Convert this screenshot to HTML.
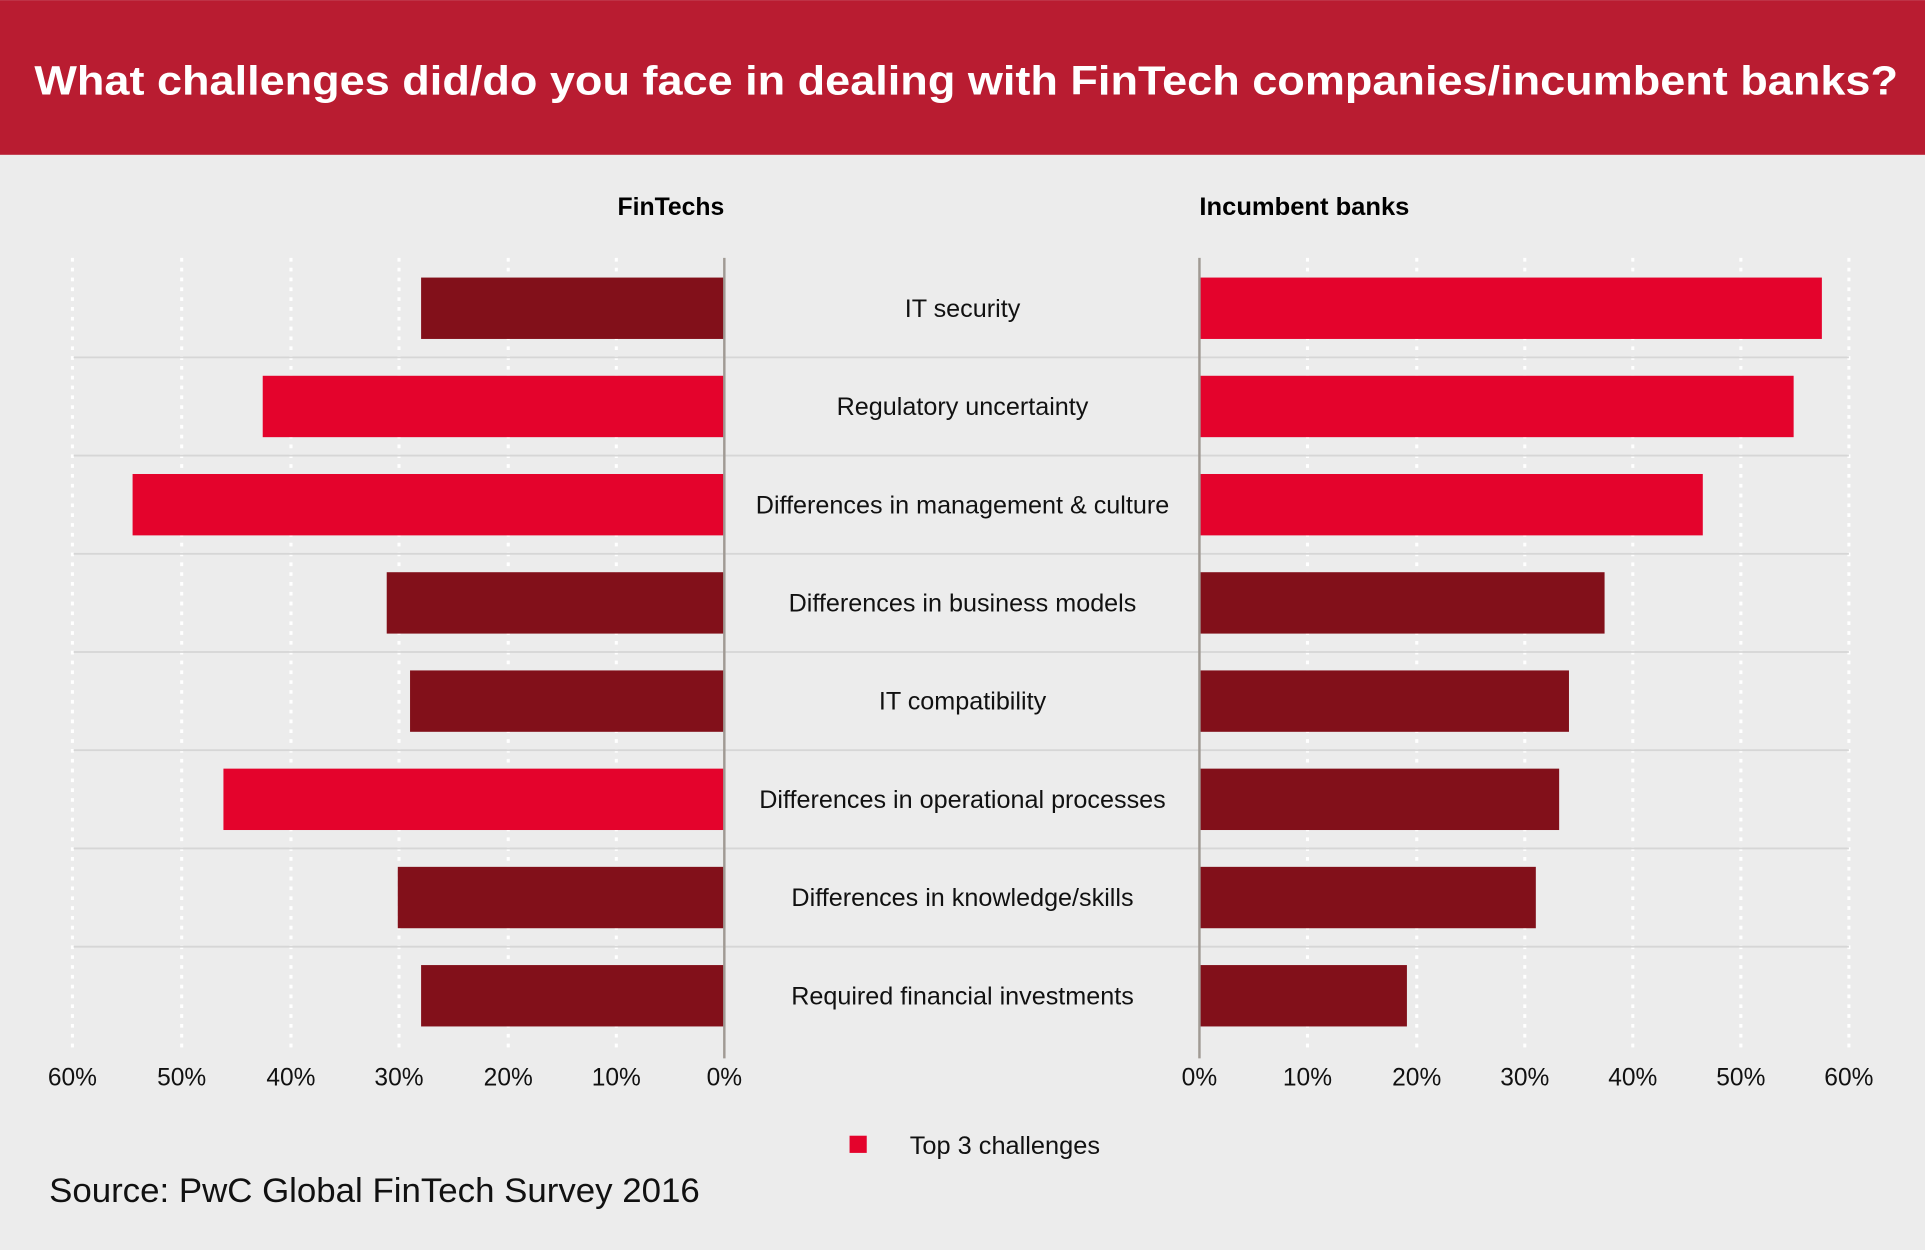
<!DOCTYPE html>
<html><head><meta charset="utf-8"><style>html,body{margin:0;padding:0;background:#ECECEC}svg{display:block}</style></head>
<body>
<svg width="1925" height="1250" viewBox="0 0 1568 1018" xmlns="http://www.w3.org/2000/svg" font-family="Liberation Sans, Arial, sans-serif">
<rect width="1568" height="1018" fill="#ECECEC"/>
<rect width="1568" height="126" fill="#B91C31"/>
<text x="28" y="77" fill="#fff" font-size="33" font-weight="bold" textLength="1518" lengthAdjust="spacingAndGlyphs">What challenges did/do you face in dealing with FinTech companies/incumbent banks?</text>
<text x="590" y="175" text-anchor="end" font-size="20" font-weight="bold" fill="#000" textLength="87" lengthAdjust="spacingAndGlyphs">FinTechs</text>
<text x="977" y="175" font-size="20" font-weight="bold" fill="#000" textLength="171" lengthAdjust="spacingAndGlyphs">Incumbent banks</text>
<g stroke="#fff" stroke-width="2.5" stroke-dasharray="3,5">
<line x1="59" y1="210" x2="59" y2="858"/><line x1="148" y1="210" x2="148" y2="858"/><line x1="237" y1="210" x2="237" y2="858"/><line x1="325" y1="210" x2="325" y2="858"/><line x1="414" y1="210" x2="414" y2="858"/><line x1="502" y1="210" x2="502" y2="858"/>
<line x1="1065" y1="210" x2="1065" y2="858"/><line x1="1154" y1="210" x2="1154" y2="858"/><line x1="1242" y1="210" x2="1242" y2="858"/><line x1="1330" y1="210" x2="1330" y2="858"/><line x1="1418" y1="210" x2="1418" y2="858"/><line x1="1506" y1="210" x2="1506" y2="858"/>
</g>
<g stroke="#d6d6d6" stroke-width="1.5">
<line x1="60" y1="291" x2="1506" y2="291"/><line x1="60" y1="371" x2="1506" y2="371"/><line x1="60" y1="451" x2="1506" y2="451"/><line x1="60" y1="531" x2="1506" y2="531"/><line x1="60" y1="611" x2="1506" y2="611"/><line x1="60" y1="691" x2="1506" y2="691"/><line x1="60" y1="771" x2="1506" y2="771"/>
</g>
<g>
<rect x="343" y="226" width="247" height="50" fill="#82101A"/>
<rect x="214" y="306" width="376" height="50" fill="#E4032C"/>
<rect x="108" y="386" width="482" height="50" fill="#E4032C"/>
<rect x="315" y="466" width="275" height="50" fill="#82101A"/>
<rect x="334" y="546" width="256" height="50" fill="#82101A"/>
<rect x="182" y="626" width="408" height="50" fill="#E4032C"/>
<rect x="324" y="706" width="266" height="50" fill="#82101A"/>
<rect x="343" y="786" width="247" height="50" fill="#82101A"/>
<rect x="977" y="226" width="507" height="50" fill="#E4032C"/>
<rect x="977" y="306" width="484" height="50" fill="#E4032C"/>
<rect x="977" y="386" width="410" height="50" fill="#E4032C"/>
<rect x="977" y="466" width="330" height="50" fill="#82101A"/>
<rect x="977" y="546" width="301" height="50" fill="#82101A"/>
<rect x="977" y="626" width="293" height="50" fill="#82101A"/>
<rect x="977" y="706" width="274" height="50" fill="#82101A"/>
<rect x="977" y="786" width="169" height="50" fill="#82101A"/>
</g>
<line x1="590" y1="210" x2="590" y2="862" stroke="#a09a94" stroke-width="2"/>
<line x1="977" y1="210" x2="977" y2="862" stroke="#a09a94" stroke-width="2"/>
<g font-size="20.5" fill="#111" text-anchor="middle">
<text x="784" y="258">IT security</text>
<text x="784" y="338">Regulatory uncertainty</text>
<text x="784" y="418">Differences in management &amp; culture</text>
<text x="784" y="498">Differences in business models</text>
<text x="784" y="578">IT compatibility</text>
<text x="784" y="658">Differences in operational processes</text>
<text x="784" y="738">Differences in knowledge/skills</text>
<text x="784" y="818">Required financial investments</text>
</g>
<g font-size="20" fill="#111" text-anchor="middle">
<text x="59" y="884">60%</text><text x="148" y="884">50%</text><text x="237" y="884">40%</text><text x="325" y="884">30%</text><text x="414" y="884">20%</text><text x="502" y="884">10%</text><text x="590" y="884">0%</text>
<text x="977" y="884">0%</text><text x="1065" y="884">10%</text><text x="1154" y="884">20%</text><text x="1242" y="884">30%</text><text x="1330" y="884">40%</text><text x="1418" y="884">50%</text><text x="1506" y="884">60%</text>
</g>
<rect x="692" y="925" width="14" height="14" fill="#E4032C"/>
<text x="741" y="940" font-size="20" fill="#111" textLength="155" lengthAdjust="spacingAndGlyphs">Top 3 challenges</text>
<text x="40" y="979" font-size="28" fill="#111" textLength="530" lengthAdjust="spacingAndGlyphs">Source: PwC Global FinTech Survey 2016</text>
</svg>
</body></html>
